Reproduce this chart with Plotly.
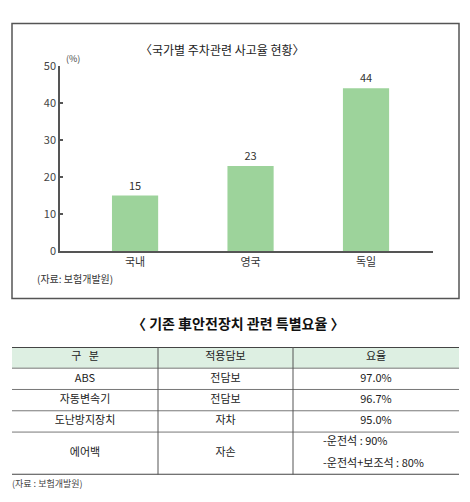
import plotly.graph_objects as go

# 차트 데이터
countries = ['국내', '영국', '독일']
accident_rates = [15, 23, 44]
y_ticks = [0, 10, 20, 30, 40, 50]

# 표 데이터
table_header = ['구   분', '적용담보', '요율']
devices = ['ABS', '자동변속기', '도난방지장치', '에어백']
coverages = ['전담보', '전담보', '자차', '자손']
discount_rates = ['97.0%', '96.7%', '95.0%', '']
airbag_rates = ['-운전석 : 90%', '-운전석+보조석 : 80%']

W, H = 470, 502
FONT = 'Noto Sans CJK KR'


def px(x):
    return x / W


def py(y):
    return 1 - y / H


# 표 레이아웃 (열 경계, 행 높이 단위: 머리행 + 4행)
col_edges = [0, 146, 281, 447]
row_units = [1, 1, 1, 1, 2]
row_edges = [0]
for u in row_units:
    row_edges.append(row_edges[-1] + u)

fig = go.Figure()

# 막대 그래프
fig.add_trace(go.Bar(
    x=countries, y=accident_rates, width=0.4,
    marker=dict(color='#9dd39b', line=dict(width=0)),
    text=[str(v) for v in accident_rates], textposition='outside',
    textfont=dict(size=11, color='#333', family=FONT),
    cliponaxis=False, showlegend=False, hoverinfo='skip'
))

# 표 텍스트 (가운데 정렬)
col_centers = [(col_edges[i] + col_edges[i + 1]) / 2 for i in range(3)]
row_centers = [(row_edges[i] + row_edges[i + 1]) / 2 for i in range(len(row_edges) - 1)]
cell_x, cell_y, cell_t = [], [], []
for j, h in enumerate(table_header):
    cell_x.append(col_centers[j]); cell_y.append(row_centers[0]); cell_t.append(h)
for i in range(len(devices)):
    for j, col in enumerate([devices, coverages, discount_rates]):
        if col[i]:
            cell_x.append(col_centers[j]); cell_y.append(row_centers[i + 1]); cell_t.append(col[i])
fig.add_trace(go.Scatter(
    x=cell_x, y=cell_y, text=cell_t, mode='text', xaxis='x2', yaxis='y2',
    textfont=dict(size=11, color='#222', family=FONT),
    showlegend=False, hoverinfo='skip'
))
# 에어백 요율 (왼쪽 정렬, 두 줄)
fig.add_trace(go.Scatter(
    x=[col_edges[2] + 30] * len(airbag_rates),
    y=[row_edges[4] + 0.5 + k for k in range(len(airbag_rates))],
    text=airbag_rates, mode='text', textposition='middle right',
    xaxis='x2', yaxis='y2',
    textfont=dict(size=11, color='#222', family=FONT),
    showlegend=False, hoverinfo='skip'
))

shapes = []
# 차트 테두리
shapes.append(dict(type='rect', xref='paper', yref='paper',
                   x0=px(12), x1=px(459), y0=py(299), y1=py(15),
                   line=dict(color='#555', width=1.5)))
# 표 머리 배경
shapes.append(dict(type='rect', xref='x2', yref='y2', x0=0, x1=col_edges[-1],
                   y0=row_edges[0], y1=row_edges[1], fillcolor='#ddefe2',
                   line=dict(width=0), layer='below'))
# 가로선
for k, y in enumerate(row_edges):
    thick = k == 0 or k == len(row_edges) - 1
    shapes.append(dict(type='line', xref='x2', yref='y2', x0=0, x1=col_edges[-1],
                       y0=y, y1=y,
                       line=dict(color='#444' if thick else '#777', width=2 if thick else 1)))
# 세로선
for x in col_edges[1:-1]:
    shapes.append(dict(type='line', xref='x2', yref='y2', x0=x, x1=x,
                       y0=row_edges[0], y1=row_edges[-1], line=dict(color='#555', width=1)))

annotations = [
    dict(text='〈국가별 주차관련 사고율 현황〉', x=px(222), y=py(42), xref='paper', yref='paper',
         yanchor='middle', showarrow=False, font=dict(size=12, color='#222', family=FONT)),
    dict(text='(%)', x=px(64), y=py(51), xref='paper', yref='paper', xanchor='left',
         yanchor='middle', showarrow=False, font=dict(size=9, color='#444', family=FONT)),
    dict(text='(자료: 보험개발원)', x=px(35), y=py(278), xref='paper', yref='paper', xanchor='left',
         yanchor='middle', showarrow=False, font=dict(size=10, color='#333', family=FONT)),
    dict(text='〈 기존 車안전장치 관련 특별요율 〉', x=px(238), y=py(324), xref='paper', yref='paper',
         yanchor='middle', showarrow=False,
         font=dict(size=14, color='#111', family=FONT, weight='bold')),
    dict(text='(자료 : 보험개발원)', x=px(10), y=py(490), xref='paper', yref='paper', xanchor='left',
         yanchor='middle', showarrow=False, font=dict(size=9, color='#444', family=FONT)),
]

fig.update_layout(
    width=W, height=H, margin=dict(l=0, r=0, t=0, b=0),
    paper_bgcolor='white', plot_bgcolor='white',
    font=dict(family=FONT),
    shapes=shapes, annotations=annotations,
    xaxis=dict(domain=[px(60), px(433)], type='category', range=[-0.65, 2.58],
               showline=True, linecolor='#555', linewidth=1.5, ticks='',
               tickfont=dict(size=11, color='#333'), showgrid=False, zeroline=False,
               fixedrange=True),
    yaxis=dict(domain=[py(250), py(59)], range=[0, 50], tickvals=y_ticks,
               showline=True, linecolor='#555', linewidth=1.5, ticks='inside', ticklen=3,
               tickcolor='#555', tickwidth=1.5, tickfont=dict(size=11, color='#444'),
               showgrid=False, zeroline=False, fixedrange=True),
    xaxis2=dict(domain=[px(12), px(459)], range=[0, col_edges[-1]], anchor='y2',
                visible=False, fixedrange=True),
    yaxis2=dict(domain=[py(481), py(349)], range=[row_edges[-1], 0], anchor='x2',
                visible=False, fixedrange=True),
)

# 페이지 여백 제거 (그림이 창 왼쪽 위에 붙도록)
fig.write_html('out.html', config={'displayModeBar': False},
               post_script="document.body.style.margin='0';document.body.style.overflow='hidden';")
